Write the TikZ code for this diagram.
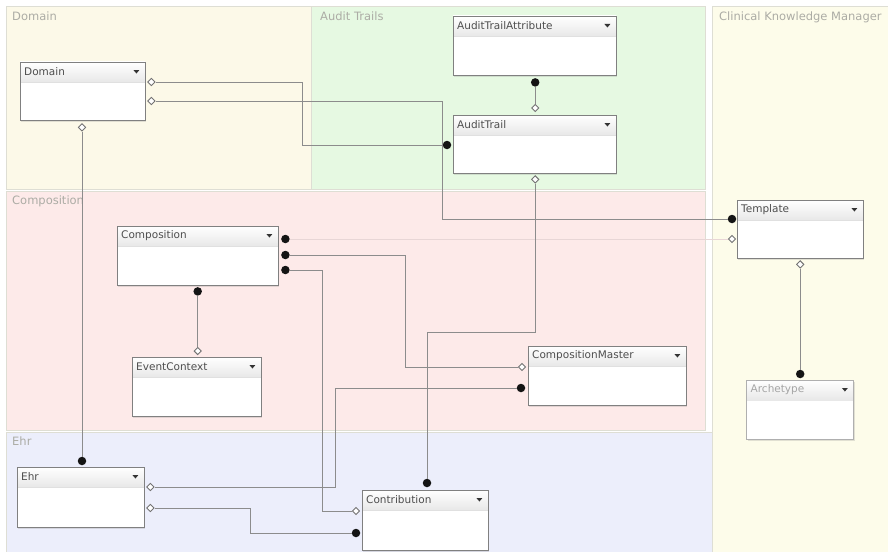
\documentclass[tikz,border=0pt]{standalone}
\usepackage{fontspec}
\setmainfont{DejaVu Sans}
\usetikzlibrary{shapes.geometric,shadows,calc}

\definecolor{laneDomain}{RGB}{252,249,232}
\definecolor{laneAudit}{RGB}{230,249,226}
\definecolor{laneCKM}{RGB}{253,252,234}
\definecolor{laneComp}{RGB}{253,234,233}
\definecolor{laneEhr}{RGB}{236,238,251}
\definecolor{laneEdge}{RGB}{222,222,212}
\definecolor{laneText}{RGB}{172,172,165}
\definecolor{boxEdge}{RGB}{128,128,128}
\definecolor{titleText}{RGB}{78,78,78}
\definecolor{wire}{RGB}{140,140,140}
\definecolor{faintWire}{RGB}{232,214,214}
\definecolor{fadedEdge}{RGB}{175,175,175}
\definecolor{fadedText}{RGB}{165,165,165}

% one class shape: name, x, y, width, height, title
\newcommand\umlclass[6]{%
  \node[classbox, minimum width=#4pt, minimum height=#5pt] (#1) at (#2,#3) {};
  \fill[headfill] (#1.north west) rectangle ([shift={(0,20)}]#1.north east);
  \draw[classrule] ([shift={(0,20)}]#1.north west) -- ([shift={(0,20)}]#1.north east);
  \draw[classedge] (#1.north west) rectangle (#1.south east);
  \node[classtitle] (#1-title) at ([shift={(4,10)}]#1.north west) {#6};
  \fill[dropmark] ([shift={(-12,8)}]#1.north east) -- ++(6,0) -- ++(-3,3.5) -- cycle;
}

\begin{document}
\begin{tikzpicture}[x=1pt,y=-1pt,
  lanebox/.style={draw=laneEdge, line width=0.8pt},
  lanelabel/.style={anchor=north west, inner sep=0pt, text=laneText,
    font=\fontsize{11.5}{13}\selectfont},
  classbox/.style={anchor=north west, rectangle, fill=white, draw=none, inner sep=0pt,
    drop shadow={shadow xshift=1pt, shadow yshift=-1.5pt, opacity=0.22}},
  headfill/.style={top color=white, bottom color=black!9},
  classrule/.style={draw=black!12, line width=0.6pt},
  classedge/.style={draw=boxEdge, line width=0.9pt},
  classtitle/.style={anchor=west, inner sep=0pt, text=titleText,
    font=\fontsize{10.5}{12}\selectfont},
  dropmark/.style={fill=black!80},
  fdot/.style={circle, fill=black!92, inner sep=0pt, minimum size=8.5pt},
  odia/.style={diamond, draw=black!55, fill=white, line width=0.9pt, inner sep=0pt,
    minimum width=7.5pt, minimum height=7.5pt},
  wireline/.style={draw=wire, line width=0.9pt},
  faintline/.style={draw=faintWire, line width=0.9pt}]

\useasboundingbox (0,0) rectangle (888,551);
\clip (0,0) rectangle (888,551);
\fill[white] (0,0) rectangle (888,551);

% swimlanes
\filldraw[lanebox, fill=laneDomain] (6,6) rectangle (311,189);
\filldraw[lanebox, fill=laneAudit] (311,6) rectangle (705,189);
\filldraw[lanebox, fill=laneCKM] (712,6) rectangle (892,555);
\filldraw[lanebox, fill=laneComp] (6,191) rectangle (705,430);
\filldraw[lanebox, fill=laneEhr] (6,432) rectangle (712,555);

\node[lanelabel] (l-domain) at (12,12) {Domain};
\node[lanelabel] (l-audit) at (320,12) {Audit Trails};
\node[lanelabel] (l-ckm) at (719,12) {Clinical Knowledge Manager};
\node[lanelabel] (l-comp) at (12,196) {Composition};
\node[lanelabel] (l-ehr) at (12,437) {Ehr};

% classes
\umlclass{domain}{20}{62}{125}{58}{Domain}
\umlclass{ata}{453}{16}{163}{59}{AuditTrailAttribute}
\umlclass{at}{453}{115}{163}{58}{AuditTrail}
\umlclass{tpl}{737}{200}{126}{58}{Template}
\umlclass{comp}{117}{226}{161}{59}{Composition}
\umlclass{ec}{132}{357}{129}{59}{EventContext}
\umlclass{cm}{528}{346}{158}{59}{CompositionMaster}
\umlclass{ehr}{17}{467}{127}{60}{Ehr}
\umlclass{ctb}{362}{490}{126}{60}{Contribution}

% greyed-out class from another model
\node[classbox, minimum width=107pt, minimum height=59pt, fill=white] (arch) at (746.5,380) {};
\fill[headfill] (arch.north west) rectangle ([shift={(0,20)}]arch.north east);
\draw[draw=fadedEdge, line width=0.9pt] (arch.north west) rectangle (arch.south east);
\node[classtitle, text=fadedText] (arch-title) at ([shift={(4,10)}]arch.north west) {Archetype};
\fill[dropmark] ([shift={(-12,8)}]arch.north east) -- ++(6,0) -- ++(-3,3.5) -- cycle;

% connector ends
\node[odia] (dom-a) at ([shift={(6,20)}]domain.north east) {};
\node[odia] (dom-b) at ([shift={(6,39)}]domain.north east) {};
\node[odia] (dom-c) at ([shift={(62,7)}]domain.south west) {};
\node[fdot] (ata-a) at ([shift={(0.5,7)}]ata.south) {};
\node[odia] (at-top) at ([shift={(0.5,-7)}]at.north) {};
\node[odia] (at-bot) at ([shift={(0.5,6)}]at.south) {};
\node[fdot] (at-left) at ([shift={(-6,30)}]at.north west) {};
\node[fdot] (tp-a) at ([shift={(-5,19)}]tpl.north west) {};
\node[odia] (tp-b) at ([shift={(-5,39)}]tpl.north west) {};
\node[odia] (tp-c) at ([shift={(0,6)}]tpl.south) {};
\node[fdot] (ar-a) at ([shift={(0,-6)}]arch.north) {};
\node[fdot] (cp-a) at ([shift={(7,13)}]comp.north east) {};
\node[fdot] (cp-b) at ([shift={(7,29)}]comp.north east) {};
\node[fdot] (cp-c) at ([shift={(7,44)}]comp.north east) {};
\node[fdot] (cp-d) at ([shift={(0,6)}]comp.south) {};
\node[odia] (ec-a) at ([shift={(1,-6)}]ec.north) {};
\node[odia] (cm-a) at ([shift={(-6,21)}]cm.north west) {};
\node[fdot] (cm-b) at ([shift={(-7,42)}]cm.north west) {};
\node[fdot] (eh-a) at ([shift={(65,-6)}]ehr.north west) {};
\node[odia] (eh-b) at ([shift={(6,20)}]ehr.north east) {};
\node[odia] (eh-c) at ([shift={(6,41)}]ehr.north east) {};
\node[fdot] (ct-a) at ([shift={(65,-7)}]ctb.north west) {};
\node[odia] (ct-b) at ([shift={(-6,21)}]ctb.north west) {};
\node[fdot] (ct-c) at ([shift={(-6,43)}]ctb.north west) {};

% associations
\draw[faintline] (cp-a) -- (tp-b);
\draw[wireline] (dom-a) -- (dom-a -| 302,0) |- (at-left);
\draw[wireline] (dom-b) -- (dom-b -| 442,0) |- (tp-a);
\draw[wireline] (ata-a) -- (at-top);
\draw[wireline] (at-bot) -- (at-bot |- 0,332) -| (ct-a);
\draw[wireline] (cp-b) -- (cp-b -| 405,0) |- (cm-a);
\draw[wireline] (cp-c) -- (cp-c -| 322,0) |- (ct-b);
\draw[wireline] (cm-b) -- (cm-b -| 335,0) |- (eh-b);
\draw[wireline] (eh-c) -- (eh-c -| 250,0) |- (ct-c);
\draw[wireline] (dom-c) -- (eh-a);
\draw[wireline] (cp-d) -- (ec-a);
\draw[wireline] (tp-c) -- (ar-a);

\end{tikzpicture}
\end{document}
